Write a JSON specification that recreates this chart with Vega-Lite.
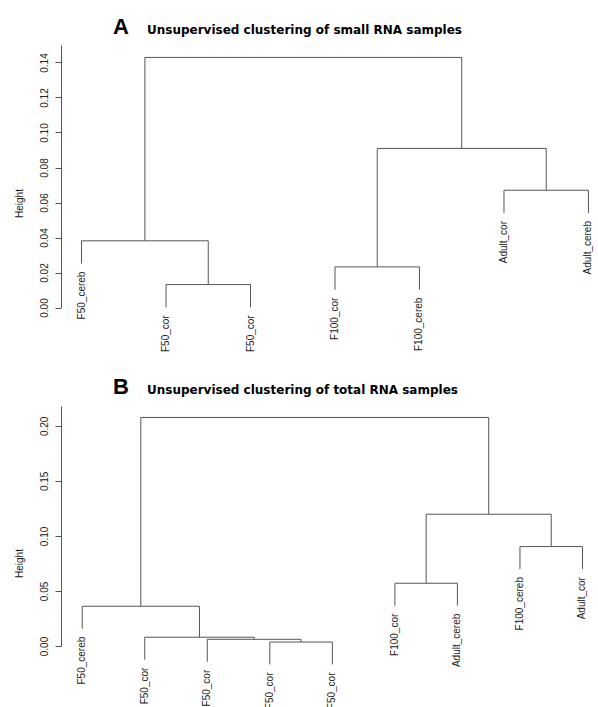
{
  "$schema": "https://vega.github.io/schema/vega-lite/v6.json",
  "padding": {"left": 14, "top": 15, "right": 0, "bottom": 0},
  "config": {"view": {"stroke": null}, "font": "Liberation Sans", "concat": {"spacing": 22}, "axis": {"labelOverlap": false}},
  "datasets": {
    "segA": [
      {"x": 2, "x2": 3, "y": 0.0131, "y2": 0.0131},
      {"x": 2, "x2": 2, "y": 0.0001, "y2": 0.0131},
      {"x": 3, "x2": 3, "y": 0.0001, "y2": 0.0131},
      {"x": 1, "x2": 2.5, "y": 0.0381, "y2": 0.0381},
      {"x": 1, "x2": 1, "y": 0.0251, "y2": 0.0381},
      {"x": 2.5, "x2": 2.5, "y": 0.0131, "y2": 0.0381},
      {"x": 4, "x2": 5, "y": 0.0232, "y2": 0.0232},
      {"x": 4, "x2": 4, "y": 0.0102, "y2": 0.0232},
      {"x": 5, "x2": 5, "y": 0.0102, "y2": 0.0232},
      {"x": 6, "x2": 7, "y": 0.067, "y2": 0.067},
      {"x": 6, "x2": 6, "y": 0.054, "y2": 0.067},
      {"x": 7, "x2": 7, "y": 0.054, "y2": 0.067},
      {"x": 4.5, "x2": 6.5, "y": 0.0909, "y2": 0.0909},
      {"x": 4.5, "x2": 4.5, "y": 0.0232, "y2": 0.0909},
      {"x": 6.5, "x2": 6.5, "y": 0.067, "y2": 0.0909},
      {"x": 1.75, "x2": 5.5, "y": 0.1429, "y2": 0.1429},
      {"x": 1.75, "x2": 1.75, "y": 0.0381, "y2": 0.1429},
      {"x": 5.5, "x2": 5.5, "y": 0.0909, "y2": 0.1429}
    ],
    "leafA": [
      {"x": 1, "y": 0.0251, "label": "F50_cereb"},
      {"x": 2, "y": 0.0001, "label": "F50_cor"},
      {"x": 3, "y": 0.0001, "label": "F50_cor"},
      {"x": 4, "y": 0.0102, "label": "F100_cor"},
      {"x": 5, "y": 0.0102, "label": "F100_cereb"},
      {"x": 6, "y": 0.054, "label": "Adult_cor"},
      {"x": 7, "y": 0.054, "label": "Adult_cereb"}
    ],
    "segB": [
      {"x": 4, "x2": 5, "y": 0.0036, "y2": 0.0036},
      {"x": 4, "x2": 4, "y": -0.0168, "y2": 0.0036},
      {"x": 5, "x2": 5, "y": -0.0168, "y2": 0.0036},
      {"x": 3, "x2": 4.5, "y": 0.0061, "y2": 0.0061},
      {"x": 3, "x2": 3, "y": -0.0143, "y2": 0.0061},
      {"x": 4.5, "x2": 4.5, "y": 0.0036, "y2": 0.0061},
      {"x": 2, "x2": 3.75, "y": 0.008, "y2": 0.008},
      {"x": 2, "x2": 2, "y": -0.0124, "y2": 0.008},
      {"x": 3.75, "x2": 3.75, "y": 0.0061, "y2": 0.008},
      {"x": 1, "x2": 2.875, "y": 0.0361, "y2": 0.0361},
      {"x": 1, "x2": 1, "y": 0.0157, "y2": 0.0361},
      {"x": 2.875, "x2": 2.875, "y": 0.008, "y2": 0.0361},
      {"x": 6, "x2": 7, "y": 0.057, "y2": 0.057},
      {"x": 6, "x2": 6, "y": 0.0366, "y2": 0.057},
      {"x": 7, "x2": 7, "y": 0.0366, "y2": 0.057},
      {"x": 8, "x2": 9, "y": 0.0903, "y2": 0.0903},
      {"x": 8, "x2": 8, "y": 0.0699, "y2": 0.0903},
      {"x": 9, "x2": 9, "y": 0.0699, "y2": 0.0903},
      {"x": 6.5, "x2": 8.5, "y": 0.1197, "y2": 0.1197},
      {"x": 6.5, "x2": 6.5, "y": 0.057, "y2": 0.1197},
      {"x": 8.5, "x2": 8.5, "y": 0.0903, "y2": 0.1197},
      {"x": 1.9375, "x2": 7.5, "y": 0.2076, "y2": 0.2076},
      {"x": 1.9375, "x2": 1.9375, "y": 0.0361, "y2": 0.2076},
      {"x": 7.5, "x2": 7.5, "y": 0.1197, "y2": 0.2076}
    ],
    "leafB": [
      {"x": 1, "y": 0.0157, "label": "F50_cereb"},
      {"x": 2, "y": -0.0124, "label": "F50_cor"},
      {"x": 3, "y": -0.0143, "label": "F50_cor"},
      {"x": 4, "y": -0.0168, "label": "F50_cor"},
      {"x": 5, "y": -0.0168, "label": "F50_cor"},
      {"x": 6, "y": 0.0366, "label": "F100_cor"},
      {"x": 7, "y": 0.0366, "label": "Adult_cereb"},
      {"x": 8, "y": 0.0699, "label": "F100_cereb"},
      {"x": 9, "y": 0.0699, "label": "Adult_cor"}
    ]
  },
  "vconcat": [
    {
      "width": 536.5,
      "height": 262.5,
      "title": {
        "text": "A",
        "anchor": "start", "frame": "group", "dx": 52, "offset": -15.6,
        "font": "Liberation Sans", "fontSize": 22, "fontWeight": "bold", "color": "#000"
      },
      "encoding": {
        "x": {"field": "x", "type": "quantitative", "scale": {"domain": [0.757, 7.107], "nice": false, "zero": false},
          "axis": {"orient": "top", "domain": false, "ticks": false, "labels": false, "grid": false,
            "title": "Unsupervised clustering of small RNA samples",
            "titleX": 85.5, "titleY": -12, "titleAlign": "left", "titleAnchor": "start", "titleBaseline": "alphabetic",
            "titleFont": "DejaVu Sans", "titleFontSize": 12, "titleFontWeight": "bold", "titleColor": "#000"}},
        "y": {"field": "y", "type": "quantitative", "scale": {"domain": [0, 0.15], "nice": false, "zero": false},
          "axis": {"title": "Height", "values": [0, 0.02, 0.04, 0.06, 0.08, 0.1, 0.12, 0.14], "format": ".2f",
            "labelAngle": 270, "labelAlign": "center", "labelBaseline": "alphabetic", "labelPadding": 8,
            "labelFontSize": 10, "labelFont": "Liberation Sans", "labelColor": "#222", "labelOverlap": false, "labelFlush": false,
            "tickSize": 6, "tickColor": "#555", "domainColor": "#555", "grid": false,
            "titleFontSize": 10, "titleFontWeight": "normal", "titleFont": "Liberation Sans", "titleColor": "#222",
            "titleX": -42, "titleY": 158, "titleAngle": 270, "titleAlign": "center", "titleBaseline": "middle"}}
      },
      "layer": [
        {
          "data": {"name": "segA"},
          "mark": {"type": "rule", "color": "#555", "strokeWidth": 1},
          "encoding": {"x2": {"field": "x2"}, "y2": {"field": "y2"}}
        },
        {
          "data": {"name": "leafA"},
          "mark": {"type": "text", "angle": 270, "align": "right", "baseline": "middle", "dx": -8, "fontSize": 10, "font": "Liberation Sans", "color": "#222"},
          "encoding": {"text": {"field": "label"}}
        }
      ]
    },
    {
      "width": 536.5,
      "height": 240,
      "title": {
        "text": "B",
        "anchor": "start", "frame": "group", "dx": 52, "offset": -15.6,
        "font": "Liberation Sans", "fontSize": 22, "fontWeight": "bold", "color": "#000"
      },
      "encoding": {
        "x": {"field": "x", "type": "quantitative", "scale": {"domain": [0.661, 9.24], "nice": false, "zero": false},
          "axis": {"orient": "top", "domain": false, "ticks": false, "labels": false, "grid": false,
            "title": "Unsupervised clustering of total RNA samples",
            "titleX": 85.5, "titleY": -13, "titleAlign": "left", "titleAnchor": "start", "titleBaseline": "alphabetic",
            "titleFont": "DejaVu Sans", "titleFontSize": 12, "titleFontWeight": "bold", "titleColor": "#000"}},
        "y": {"field": "y", "type": "quantitative", "scale": {"domain": [0, 0.218], "nice": false, "zero": false},
          "axis": {"title": "Height", "values": [0, 0.05, 0.1, 0.15, 0.2], "format": ".2f",
            "labelAngle": 270, "labelAlign": "center", "labelBaseline": "alphabetic", "labelPadding": 8,
            "labelFontSize": 10, "labelFont": "Liberation Sans", "labelColor": "#222", "labelOverlap": false, "labelFlush": false,
            "tickSize": 6, "tickColor": "#555", "domainColor": "#555", "grid": false,
            "titleFontSize": 10, "titleFontWeight": "normal", "titleFont": "Liberation Sans", "titleColor": "#222",
            "titleX": -42, "titleY": 157, "titleAngle": 270, "titleAlign": "center", "titleBaseline": "middle"}}
      },
      "layer": [
        {
          "data": {"name": "segB"},
          "mark": {"type": "rule", "color": "#555", "strokeWidth": 1},
          "encoding": {"x2": {"field": "x2"}, "y2": {"field": "y2"}}
        },
        {
          "data": {"name": "leafB"},
          "mark": {"type": "text", "angle": 270, "align": "right", "baseline": "middle", "dx": -8, "fontSize": 10, "font": "Liberation Sans", "color": "#222"},
          "encoding": {"text": {"field": "label"}}
        }
      ]
    }
  ]
}
